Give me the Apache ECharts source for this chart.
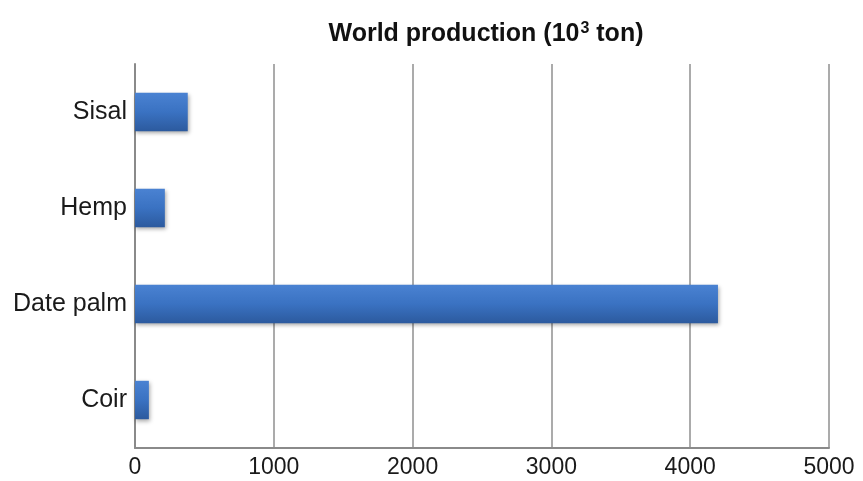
<!DOCTYPE html>
<html>
<head>
<meta charset="utf-8">
<script src="https://cdn.jsdelivr.net/npm/echarts@6/dist/echarts.min.js"></script>
<style>
  html, body { margin: 0; padding: 0; background: #ffffff; }
  #chart { width: 863px; height: 481px; }
</style>
</head>
<body>
<div id="chart"></div>
<script>
// Fibre crops, listed bottom to top on the category axis
const fibres = ['Coir', 'Date palm', 'Hemp', 'Sisal'];
// World production in thousand tonnes
const production = [100, 4200, 215, 380];
const xTicks = [0, 1000, 2000, 3000, 4000, 5000];

const chart = echarts.init(document.getElementById('chart'));

const barFill = new echarts.graphic.LinearGradient(0, 0, 0, 1, [
  { offset: 0, color: '#4a82d2' },
  { offset: 0.5, color: '#3a72c2' },
  { offset: 1, color: '#2c5a9e' }
]);

const labelFont = 'Liberation Sans, Arial, sans-serif';

chart.setOption({
  animation: false,
  backgroundColor: '#ffffff',
  title: {
    text: 'World production (10{sup|3} ton)',
    left: 481,
    textAlign: 'center',
    top: 16,
    textStyle: {
      fontFamily: labelFont,
      fontSize: 25,
      fontWeight: 'bold',
      color: '#111111',
      rich: {
        sup: {
          fontFamily: labelFont,
          fontSize: 16,
          fontWeight: 'bold',
          color: '#111111',
          verticalAlign: 'top',
          padding: [0, 0, 11, 1]
        }
      }
    }
  },
  grid: { left: 135, right: 34, top: 64, bottom: 33 },
  xAxis: {
    type: 'value',
    min: xTicks[0],
    max: xTicks[xTicks.length - 1],
    interval: 1000,
    axisLine: { show: true, lineStyle: { color: '#8a8a8a', width: 2 } },
    axisTick: { show: false },
    axisLabel: {
      fontFamily: labelFont,
      fontSize: 23,
      color: '#1a1a1a',
      margin: 8,
      formatter: (v) => String(v)
    },
    splitLine: { show: true, lineStyle: { color: '#8f8f8f', width: 1.5 } }
  },
  yAxis: {
    type: 'category',
    data: fibres,
    axisLine: { show: true, lineStyle: { color: '#8a8a8a', width: 2 } },
    axisTick: { show: false },
    axisLabel: {
      fontFamily: labelFont,
      fontSize: 25,
      color: '#1a1a1a',
      margin: 8
    }
  },
  series: [{
    type: 'bar',
    data: production,
    barWidth: '40%',
    itemStyle: {
      color: barFill,
      shadowColor: 'rgba(0,0,0,0.35)',
      shadowBlur: 4,
      shadowOffsetX: 1,
      shadowOffsetY: 2
    }
  }]
});
</script>
</body>
</html>
